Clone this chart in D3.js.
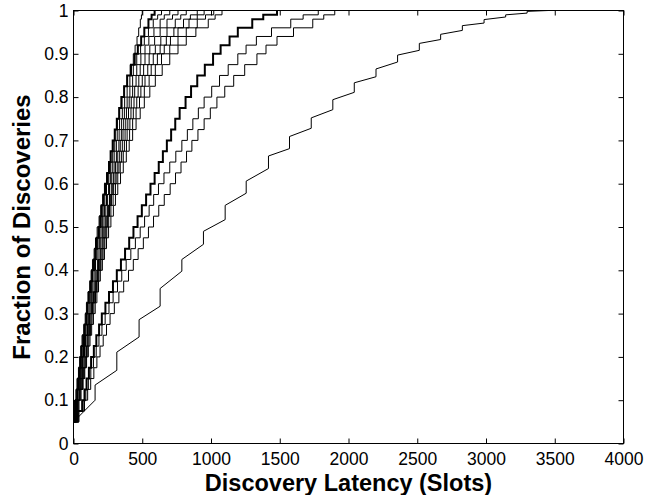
<!DOCTYPE html>
<html>
<head>
<meta charset="utf-8">
<script src="https://cdn.jsdelivr.net/npm/d3@7/dist/d3.min.js"></script>
<style>
  body { margin: 0; background: #fff; }
  text { font-family: "Liberation Sans", Arial, Helvetica, sans-serif; }
</style>
</head>
<body>
<svg width="659" height="495"></svg>
<script>
// CDF levels the step curves reach (y values)
const levels = [0.05, 0.075, 0.1, 0.125, 0.15, 0.175, 0.2, 0.225, 0.25, 0.275,
                0.3, 0.325, 0.35, 0.375, 0.4, 0.425, 0.45, 0.475, 0.5, 0.525,
                0.55, 0.575, 0.6, 0.625, 0.65, 0.675, 0.7, 0.725, 0.75, 0.775,
                0.8, 0.825, 0.85, 0.875, 0.9, 0.92, 0.94, 0.96, 0.98, 0.99, 1.0];

// fast group: latency (slots) at which each level is reached
const fast1  = [0, 3, 8, 18, 25, 36, 45, 52, 62, 74, 85, 94, 105, 118, 128, 138, 150, 160, 172, 186,
                198, 212, 225, 240, 255, 272, 288, 302, 318, 335, 352, 370, 392, 412, 435, 448, 462, 474, 486, 494, 500];
const fast2  = [0, 12, 20, 28, 35, 42, 50, 60, 70, 82, 92, 100, 112, 124, 135, 148, 158, 170, 182, 194,
                205, 218, 230, 245, 258, 270, 285, 300, 315, 332, 348, 368, 390, 418, 445, 468, 492, 515, 545, 568, 590];
const fast3  = [0, 5, 12, 30, 45, 55, 65, 72, 80, 90, 100, 112, 122, 130, 140, 152, 165, 178, 190, 202,
                215, 228, 240, 256, 270, 285, 300, 318, 335, 355, 372, 390, 410, 435, 460, 488, 515, 545, 580, 612, 640];
const fast4  = [0, 22, 30, 42, 50, 60, 70, 80, 90, 100, 110, 120, 130, 140, 150, 160, 172, 188, 200, 212,
                225, 240, 255, 268, 282, 296, 312, 332, 350, 370, 390, 410, 430, 460, 490, 520, 548, 585, 630, 660, 700];
const fast5  = [0, 8, 15, 28, 40, 50, 60, 72, 85, 100, 115, 128, 140, 150, 162, 174, 185, 198, 210, 222,
                235, 248, 262, 278, 295, 312, 330, 348, 365, 385, 405, 430, 455, 485, 520, 555, 590, 630, 680, 720, 760];
const fast6  = [0, 14, 25, 40, 55, 66, 78, 90, 100, 110, 120, 132, 145, 158, 170, 182, 195, 208, 220, 234,
                248, 262, 275, 290, 305, 322, 340, 360, 380, 400, 420, 445, 475, 510, 550, 595, 635, 680, 740, 780, 820];
const fast7  = [0, 20, 35, 48, 60, 72, 85, 95, 105, 116, 128, 140, 150, 162, 175, 188, 200, 214, 228, 242,
                255, 270, 285, 302, 318, 336, 355, 375, 395, 418, 440, 470, 500, 540, 580, 630, 675, 730, 800, 850, 900];
const fast8  = [0, 5, 10, 20, 30, 42, 55, 72, 88, 102, 118, 138, 155, 168, 180, 195, 208, 222, 235, 248,
                262, 276, 292, 310, 330, 350, 370, 390, 410, 435, 460, 490, 520, 565, 610, 660, 705, 760, 840, 900, 950];
const fast9  = [0, 15, 28, 48, 65, 78, 90, 100, 112, 124, 135, 148, 160, 172, 185, 200, 215, 228, 242, 256,
                272, 288, 305, 322, 340, 362, 385, 408, 430, 455, 480, 515, 550, 595, 640, 700, 760, 820, 900, 960, 1020];
const fast10 = [0, 25, 40, 55, 70, 82, 95, 108, 120, 132, 145, 158, 170, 182, 195, 210, 225, 240, 255, 272,
                290, 305, 322, 342, 362, 384, 405, 430, 455, 485, 515, 555, 595, 645, 700, 760, 820, 890, 980, 1030, 1080];
const fastCurves = [fast1, fast2, fast3, fast4, fast5, fast6, fast7, fast8, fast9, fast10];
const fastWidths = [1, 2, 1, 1, 1, 1, 1, 1, 1, 1];

// middle group (one thick, two thin)
const mid1 = [0, 30, 63, 80, 95, 112, 128, 148, 166, 186, 206, 232, 258, 287, 315, 345, 375, 405, 436, 466,
              497, 528, 560, 590, 620, 650, 679, 710, 740, 772, 815, 855, 900, 955, 1015, 1070, 1135, 1195, 1300, 1380, 1480];
const mid2 = [0, 35, 70, 90, 108, 126, 145, 165, 185, 207, 230, 258, 288, 320, 351, 383, 417, 450, 485, 517,
              550, 583, 618, 658, 700, 744, 788, 828, 868, 908, 950, 1005, 1062, 1125, 1195, 1255, 1330, 1440, 1580, 1670, 1780];
const mid3 = [0, 40, 80, 103, 125, 148, 170, 193, 216, 240, 266, 297, 330, 365, 400, 435, 470, 508, 545, 582,
              620, 660, 703, 742, 782, 822, 861, 905, 950, 995, 1043, 1100, 1165, 1245, 1334, 1400, 1480, 1600, 1740, 1820, 1900];
const midCurves = [mid1, mid2, mid3];
const midWidths = [2, 1, 1];

// slow curve: sloped runs, then a jump at each of these latencies
const slowStart = [0, 0.05];
const slowJumps  = [157, 315, 477, 630, 788, 945, 1103, 1256, 1418, 1571, 1729, 1886, 2042, 2200, 2357, 2515, 2670, 2828, 2986, 3143, 3299];
const slowBefore = [0.1, 0.169, 0.246, 0.317, 0.398, 0.46, 0.517, 0.578, 0.635, 0.681, 0.728, 0.771, 0.811, 0.847, 0.881, 0.908, 0.933, 0.954, 0.971, 0.985, 0.994];
const slowAfter  = [0.135, 0.211, 0.286, 0.358, 0.425, 0.49, 0.55, 0.606, 0.664, 0.709, 0.752, 0.794, 0.833, 0.865, 0.897, 0.924, 0.945, 0.965, 0.979, 0.99, 0.998];
const slowEnd = [3454, 1.0];

const xTicks = [0, 500, 1000, 1500, 2000, 2500, 3000, 3500, 4000];
const yTicks = [0, 0.1, 0.2, 0.3, 0.4, 0.5, 0.6, 0.7, 0.8, 0.9, 1];
const yTickLabels = ['0', '0.1', '0.2', '0.3', '0.4', '0.5', '0.6', '0.7', '0.8', '0.9', '1'];

const svg = d3.select('svg');
const x = d3.scaleLinear().domain([0, 4000]).range([73.5, 623.5]);
const y = d3.scaleLinear().domain([0, 1]).range([443.5, 10.5]);

svg.append('clipPath').attr('id', 'plot')
  .append('rect')
  .attr('x', x(0)).attr('y', y(1))
  .attr('width', x(4000) - x(0)).attr('height', y(0) - y(1));

const plot = svg.append('g').attr('clip-path', 'url(#plot)');

const stepLine = d3.line()
  .x(d => x(d[0]))
  .y(d => y(d[1]))
  .curve(d3.curveStepAfter);

const plain = d3.line()
  .x(d => x(d[0]))
  .y(d => y(d[1]));

// fast + middle curves
fastCurves.forEach((c, i) => {
  plot.append('path')
    .attr('d', stepLine(c.map((v, k) => [v, levels[k]])))
    .attr('fill', 'none')
    .attr('stroke', '#000')
    .attr('stroke-width', fastWidths[i]);
});

midCurves.forEach((c, i) => {
  plot.append('path')
    .attr('d', stepLine(c.map((v, k) => [v, levels[k]])))
    .attr('fill', 'none')
    .attr('stroke', '#000')
    .attr('stroke-width', midWidths[i]);
});

// slow curve
const slowPts = [slowStart];
slowJumps.forEach((j, k) => {
  slowPts.push([j, slowBefore[k]]);
  slowPts.push([j, slowAfter[k]]);
});
slowPts.push(slowEnd);
plot.append('path')
  .attr('d', plain(slowPts))
  .attr('fill', 'none')
  .attr('stroke', '#000')
  .attr('stroke-width', 1);

// axes, ticks pointing inward (matlab style)
const fontSize = '17.5px';
const tickFont = g => g.selectAll('text')
  .attr('font-size', fontSize).attr('fill', '#000')
  .style('font-family', '"Liberation Sans", Arial, sans-serif');

svg.append('g')
  .attr('transform', `translate(0,${y(0)})`)
  .call(d3.axisBottom(x).tickValues(xTicks).tickFormat(d3.format('d'))
    .tickSizeInner(-5).tickSizeOuter(0).tickPadding(9))
  .call(g => g.select('.domain').remove())
  .call(tickFont);

svg.append('g')
  .attr('transform', `translate(${x(0)},0)`)
  .call(d3.axisLeft(y).tickValues(yTicks).tickFormat((d, i) => yTickLabels[i])
    .tickSizeInner(-5).tickSizeOuter(0).tickPadding(5))
  .call(g => g.select('.domain').remove())
  .call(tickFont);

svg.append('g')
  .attr('transform', `translate(0,${y(1)})`)
  .call(d3.axisTop(x).tickValues(xTicks).tickSizeInner(-5).tickSizeOuter(0).tickFormat(''))
  .call(g => g.select('.domain').remove());

svg.append('g')
  .attr('transform', `translate(${x(4000)},0)`)
  .call(d3.axisRight(y).tickValues(yTicks).tickSizeInner(-5).tickSizeOuter(0).tickFormat(''))
  .call(g => g.select('.domain').remove());

svg.selectAll('.tick line').attr('stroke', '#000');

// box
svg.append('rect')
  .attr('x', x(0)).attr('y', y(1))
  .attr('width', x(4000) - x(0)).attr('height', y(0) - y(1))
  .attr('fill', 'none').attr('stroke', '#000').attr('stroke-width', 1);

// axis titles
svg.append('text')
  .attr('x', (x(0) + x(4000)) / 2).attr('y', 490.5)
  .attr('text-anchor', 'middle')
  .attr('font-size', '23.5px').attr('font-weight', 'bold')
  .text('Discovery Latency (Slots)');

svg.append('text')
  .attr('transform', `translate(30,${(y(0) + y(1)) / 2}) rotate(-90)`)
  .attr('text-anchor', 'middle')
  .attr('font-size', '24px').attr('font-weight', 'bold')
  .text('Fraction of Discoveries');
</script>
</body>
</html>
